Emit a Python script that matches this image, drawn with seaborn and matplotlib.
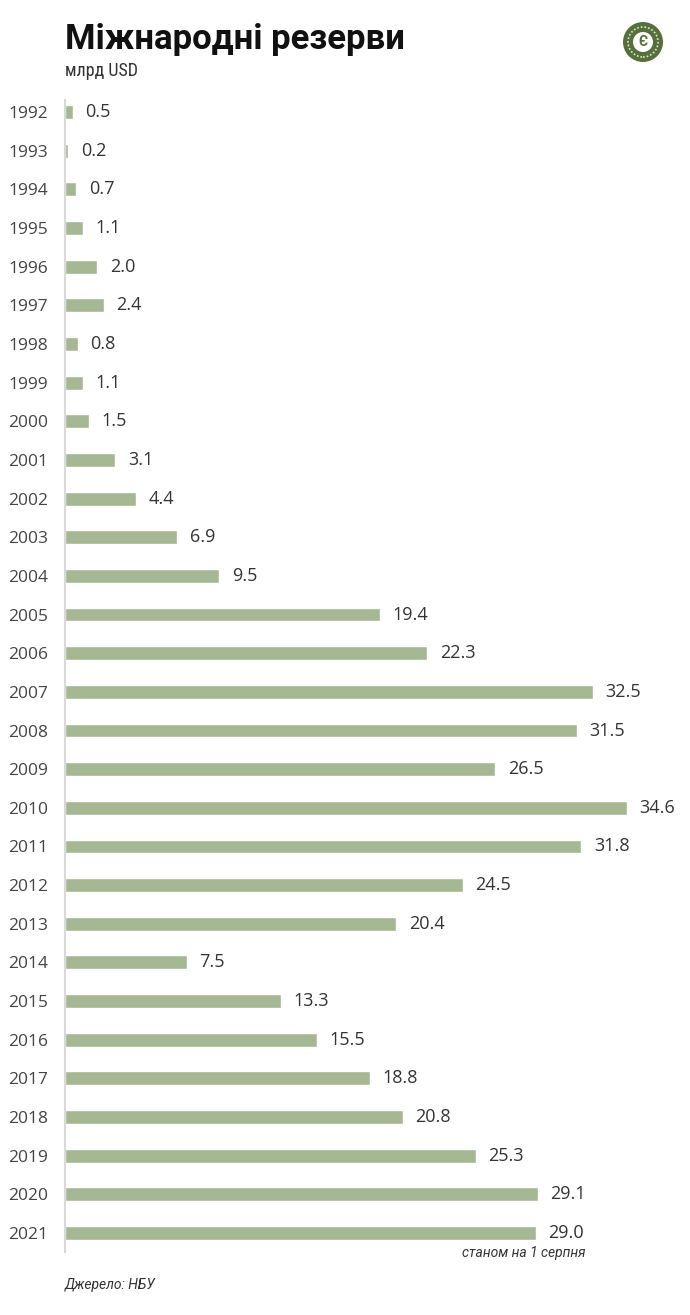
import matplotlib
matplotlib.use("Agg")
import matplotlib.pyplot as plt
import seaborn as sns
import pandas as pd
from matplotlib.patches import Ellipse

years = ["1992", "1993", "1994", "1995", "1996", "1997", "1998", "1999", "2000",
         "2001", "2002", "2003", "2004", "2005", "2006", "2007", "2008", "2009",
         "2010", "2011", "2012", "2013", "2014", "2015", "2016", "2017", "2018",
         "2019", "2020", "2021"]
values = [0.5, 0.2, 0.7, 1.1, 2.0, 2.4, 0.8, 1.1, 1.5, 3.1, 4.4, 6.9, 9.5, 19.4,
          22.3, 32.5, 31.5, 26.5, 34.6, 31.8, 24.5, 20.4, 7.5, 13.3, 15.5, 18.8,
          20.8, 25.3, 29.1, 29.0]

sns.set_theme(style="white")
plt.rcParams["font.family"] = ["Roboto", "DejaVu Sans"]

df = pd.DataFrame({"year": years, "value": values})

W, H = 690, 1315
fig = plt.figure(figsize=(W / 100, H / 100), dpi=100)
ax = fig.add_axes([65 / W, 1 - 1252 / H, (W - 65) / W, (1252 - 100) / H])

sns.barplot(data=df, x="value", y="year", orient="h", color="#a6b793",
            saturation=1, width=0.36, ax=ax)

ax.set_xlim(0, (W - 65) / 16.24)
ax.set_ylim(29.49, -0.31)
for s in ["top", "right", "bottom"]:
    ax.spines[s].set_visible(False)
ax.spines["left"].set_color("#d9d9d9")
ax.spines["left"].set_linewidth(1.5)
ax.set_xticks([])
ax.set_xlabel("")
ax.set_ylabel("")
ax.tick_params(axis="y", length=0, pad=12, labelsize=12.5, labelcolor="#444444")
for lab in ax.get_yticklabels():
    lab.set_fontfamily(["Open Sans", "DejaVu Sans"])

for i, v in enumerate(values):
    ax.annotate(f"{v:.1f}", xy=(v, i), xytext=(9, 0), textcoords="offset points",
                va="center", ha="left", fontsize=13, color="#333333",
                family=["Open Sans", "DejaVu Sans"])

fig.text(65 / W, 1 - 40 / H, "Міжнародні резерви", fontsize=25, fontweight="bold",
         color="#111111", va="center", ha="left")
fig.text(65 / W, 1 - 71 / H, "млрд USD", fontsize=13, color="#333333",
         va="center", ha="left", family=["Roboto Condensed", "Roboto", "DejaVu Sans"])
fig.text(585 / W, 1 - 1253 / H, "станом на 1 серпня", fontsize=10, style="italic",
         color="#333333", va="center", ha="right")
fig.text(65 / W, 1 - 1285 / H, "Джерело: НБУ", fontsize=10, style="italic",
         color="#333333", va="center", ha="left")

# logo
cx, cy = 643 / W, 1 - 42 / H
r = 20
fig.patches.append(Ellipse((cx, cy), 2 * r / W, 2 * r / H, transform=fig.transFigure,
                           facecolor="#55703a", edgecolor="none"))
fig.patches.append(Ellipse((cx, cy), 2 * 15 / W, 2 * 15 / H, transform=fig.transFigure,
                           facecolor="none", edgecolor="#dfe6d4", linewidth=1.2,
                           linestyle=(0, (1, 1.2))))
fig.patches.append(Ellipse((cx, cy), 2 * 10 / W, 2 * 10 / H, transform=fig.transFigure,
                           facecolor="white", edgecolor="none"))
fig.text(cx, cy, "Є", fontsize=10, fontweight="bold", color="#55703a",
         ha="center", va="center")

fig.savefig("out.png", dpi=100, facecolor="white")
